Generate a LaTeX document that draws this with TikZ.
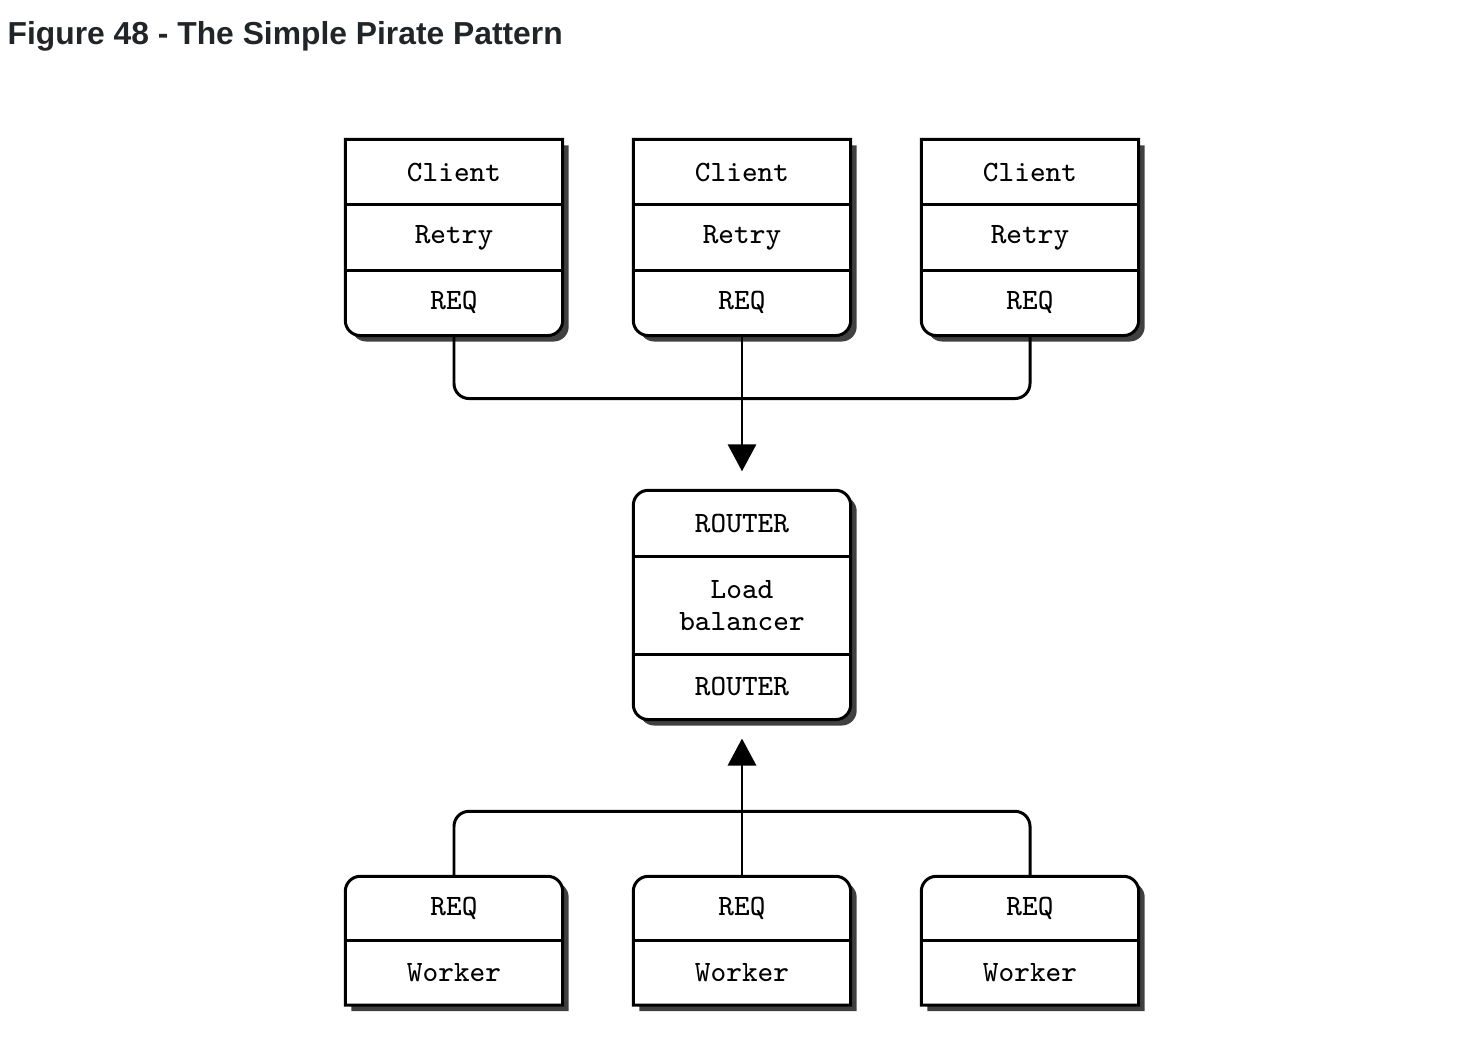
\documentclass[tikz,border=0pt]{standalone}
\usepackage{fontspec}
\setsansfont{Liberation Sans}
\usetikzlibrary{arrows.meta,positioning,shadows,backgrounds}
\definecolor{titlegray}{HTML}{222528}

\begin{document}
\begin{tikzpicture} [{row/.style={rectangle,minimum width=2.16cm,minimum height=0.64cm,inner sep=0pt,font=\fontsize{8.4}{9.1}\selectfont\ttfamily}},{boxline/.style={line width=0.85pt,fill=white,drop shadow={shadow xshift=0.06cm,shadow yshift=-0.06cm,fill=black!75,opacity=1}}},{divline/.style={line width=0.85pt}},{wire/.style={line width=0.85pt,rounded corners=0.15cm}},{arrowst/.style={-{Triangle[length=7.7pt,width=8pt]},shorten >=0.19cm}}]
	\useasboundingbox (0,0) rectangle (14.80,-10.38);
	%%title
	\node [anchor=base west,inner sep=0pt,font=\fontsize{9.05}{11}\selectfont\sffamily\bfseries,color=titlegray] (title) at (0.07,-0.44) {Figure 48 - The Simple Pirate Pattern};

	%%clients
	\foreach \n/\x in {c1/4.54,c2/7.42,c3/10.30} {
		\node [row] (\n-top) at (\x,-1.72) {Client};
		\node [row,below=0pt of \n-top] (\n-mid) {Retry};
		\node [row,below=0pt of \n-mid] (\n-req) {REQ};
	}
	%%router
	\node [row,minimum height=0.65cm] (rt) at (7.42,-5.235) {ROUTER};
	\node [row,below=0pt of rt,minimum height=0.96cm,align=center] (lb) {Load\\balancer};
	\node [row,below=0pt of lb] (rb) {ROUTER};
	%%workers
	\foreach \n/\x in {w1/4.54,w2/7.42,w3/10.30} {
		\node [row,minimum height=0.63cm] (\n-req) at (\x,-9.085) {REQ};
		\node [row,minimum height=0.63cm,below=0pt of \n-req] (\n-wk) {Worker};
	}

	%%boxes
	\begin{scope}[on background layer]
		\foreach \n in {c1,c2,c3} {
			\draw [boxline] (\n-top.north west) -- (\n-top.north east) -- ([yshift=0.15cm]\n-req.south east) arc [start angle=0,end angle=-90,radius=0.15cm] -- ([xshift=0.15cm]\n-req.south west) arc [start angle=270,end angle=180,radius=0.15cm] -- cycle;
			\draw [divline] (\n-top.south west) -- (\n-top.south east) (\n-mid.south west) -- (\n-mid.south east);
		}
		\draw [boxline,rounded corners=0.15cm] (rt.north west) rectangle (rb.south east);
		\draw [divline] (rt.south west) -- (rt.south east) (lb.south west) -- (lb.south east);
		\foreach \n in {w1,w2,w3} {
			\draw [boxline] (\n-wk.south west) -- ([yshift=-0.15cm]\n-req.north west) arc [start angle=180,end angle=90,radius=0.15cm] -- ([xshift=-0.15cm]\n-req.north east) arc [start angle=90,end angle=0,radius=0.15cm] -- (\n-wk.south east) -- cycle;
			\draw [divline] (\n-req.south west) -- (\n-req.south east);
		}
	\end{scope}

	%%connectors
	\draw [wire] (c1-req.south) -- ++(0,-0.63) -| (c3-req.south);
	\draw [wire,arrowst] (c2-req.south) -- (rt.north);
	\draw [wire] (w1-req.north) -- ++(0,0.65) -| (w3-req.north);
	\draw [wire,arrowst] (w2-req.north) -- (rb.south);
\end{tikzpicture}
\end{document}
